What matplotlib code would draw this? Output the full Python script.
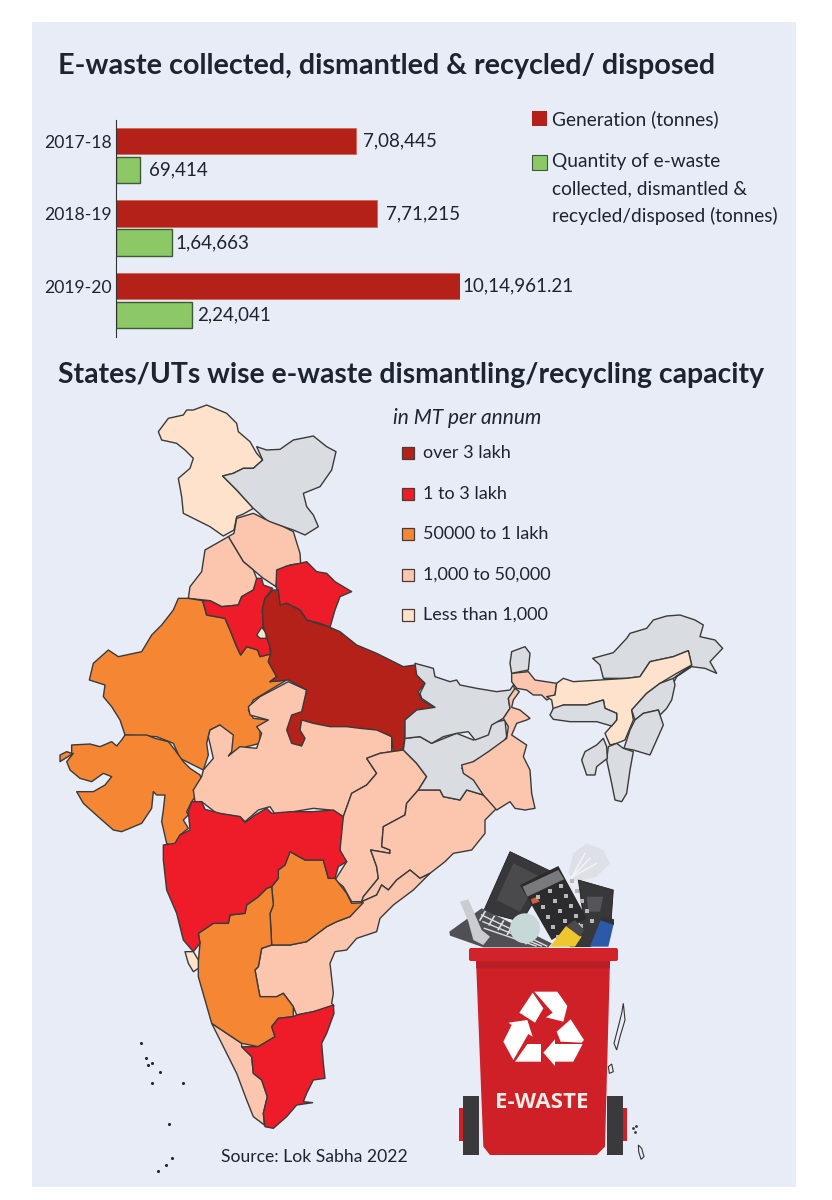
import matplotlib
matplotlib.use("Agg")
import matplotlib.pyplot as plt
from matplotlib.patches import Polygon, Rectangle, FancyBboxPatch, Circle

# data
years = ["2017-18", "2018-19", "2019-20"]
generation = [708445, 771215, 1014961.21]
collected = [69414, 164663, 224041]
gen_labels = ["7,08,445", "7,71,215", "10,14,961.21"]
col_labels = ["69,414", "1,64,663", "2,24,041"]
gen_gaps = [7, 9, 2]
col_gaps = [9, 4, 5]

legend_labels = ["over 3 lakh", "1 to 3 lakh", "50000 to 1 lakh", "1,000 to 50,000", "Less than 1,000"]
legend_colors = ["#b32119", "#ed1c28", "#f58634", "#fcc6ae", "#fee2cc"]
GREY = "#d9dce0"
RED_D, RED, ORANGE, PEACH, LIGHT = legend_colors

Z1 = (30, 390)
Z2 = (400, 620)
Z3 = (130, 780)
Z6 = (50, 720)
Z7 = (180, 670)

jk = [(385,125),(415,85),(460,75),(470,60),(490,60),(530,45),(590,70),(620,100),(625,125),(660,155),(680,190),(698,210),(670,235),(640,235),(610,250),(578,258),(620,300),(670,355),(640,372),(620,380),(612,420),(580,438),(540,410),(500,390),(460,370),(455,320),(445,265),(480,235),(490,205),(465,180),(440,160),(395,150)]
ladakh = [(680,170),(710,180),(750,178),(790,150),(850,138),(890,170),(918,185),(905,240),(870,290),(820,310),(830,350),(850,375),(865,410),(825,435),(790,420),(760,410),(715,395),(670,355),(620,300),(578,258),(610,250),(640,235),(670,235),(698,210)]
himachal = [(670,370),(720,395),(760,410),(790,425),(810,490),(812,520),(780,525),(745,540),(738,590),(700,565),(670,540),(640,515),(595,440),(612,430),(620,385)]
punjab = [(595,440),(640,515),(670,540),(682,570),(670,600),(635,620),(625,645),(575,650),(540,632),(475,625),(480,590),(515,545),(525,480),(560,460)]
haryana = [(518,632),(540,632),(575,650),(625,645),(635,620),(670,600),(680,565),(695,565),(700,585),(728,595),(705,625),(697,660),(700,710),(720,770),(722,792),(690,800),(683,780),(650,770),(632,795),(620,770),(600,720),(585,685),(530,675)]
delhi = [(680,735),(695,712),(710,730),(708,745),(690,745)]
uttarakhand = [(740,540),(770,528),(810,520),(830,515),(860,545),(890,550),(915,575),(965,605),(930,620),(915,660),(900,712),(870,700),(830,690),(810,660),(770,640),(750,650),(745,610),(738,590)]
up = [(745,600),(750,645),(770,640),(810,660),(830,690),(900,712),(930,725),(980,765),(1040,790),(1080,810),(1120,830),(1155,825),(1185,880),(1165,905),(1175,930),(1218,955),(1160,960),(1125,1010),(1125,1050),(1115,1090),(1090,1090),(1085,1040),(1040,1020),(990,1015),(950,1010),(900,1010),(850,1000),(815,990),(810,1020),(825,1045),(815,1068),(785,1060),(770,1020),(785,975),(815,965),(830,900),(775,870),(720,875),(740,860),(715,815),(722,790),(720,770),(700,710),(697,660),(705,625),(728,600)]
rajasthan = [(445,625),(475,625),(518,632),(530,675),(585,685),(600,720),(620,770),(632,795),(650,770),(683,780),(690,800),(722,792),(715,815),(740,860),(720,875),(770,870),(720,900),(670,930),(655,960),(670,985),(715,990),(690,1010),(690,1060),(650,1070),(610,1095),(590,1095),(605,1040),(575,1025),(570,1005),(540,1020),(530,1060),(535,1095),(520,1140),(500,1130),(450,1105),(430,1060),(380,1040),(285,1035),(270,990),(245,950),(220,920),(225,885),(178,870),(190,820),(235,780),(265,800),(335,785),(365,735),(395,705),(430,660)]

gujarat = [(225,45),(290,45),(315,55),(355,65),(375,90),(400,125),(420,145),(450,165),(455,180),(440,205),(430,210),(440,225),(425,245),(410,275),(415,285),(400,300),(415,325),(390,345),(370,380),(350,370),(335,305),(340,270),(345,225),(320,225),(310,215),(305,265),(275,310),(215,335),(190,330),(150,295),(100,250),(80,215),(90,215),(130,215),(165,195),(185,170),(160,160),(125,185),(90,175),(60,150),(50,125),(70,100),(30,125),(30,105),(50,95),(65,100),(65,75),(120,72),(150,80),(185,65),(200,78),(215,60)]

mp = [(325,35),(380,60),(370,120),(400,150),(460,150),(520,170),(580,170),(635,200),(635,245),(600,250),(560,265),(590,310),(560,345),(515,370),(490,440),(450,420),(400,415),(340,425),(290,440),(270,410),(235,420),(195,455),(180,440),(110,430),(65,395),(45,395),(40,360),(65,320),(70,300),(100,265),(85,200),(90,180),(120,165),(160,195),(155,245),(145,258),(180,230),(230,235),(245,190),(230,170),(265,150),(210,135),(205,110),(240,80)]
chhattisgarh = [(635,245),(670,240),(710,280),(740,320),(715,360),(680,400),(675,435),(610,470),(605,530),(630,540),(630,550),(572,540),(590,590),(595,625),(550,680),(545,695),(515,695),(490,650),(465,630),(500,575),(480,550),(480,470),(490,440),(515,370),(560,345),(590,310),(560,265),(600,250)]
odisha = [(715,360),(780,360),(790,380),(840,390),(860,360),(910,375),(950,415),(915,450),(915,490),(875,540),(820,550),(795,575),(750,610),(720,625),(690,600),(650,630),(625,660),(605,645),(590,675),(545,695),(550,680),(595,625),(590,590),(572,540),(630,550),(630,540),(605,530),(610,470),(675,435),(680,400)]
jharkhand = [(675,205),(720,200),(755,220),(830,190),(880,210),(930,160),(975,150),(980,200),(960,235),(890,270),(845,295),(880,320),(910,375),(860,360),(840,390),(790,380),(780,360),(715,360),(740,320),(710,280),(670,240)]

bihar = [(45,130),(100,145),(105,170),(150,185),(170,180),(180,195),(230,205),(290,215),(330,210),(340,195),(345,210),(325,235),(330,265),(310,295),(275,315),(265,345),(225,360),(205,335),(170,340),(130,350),(95,370),(60,350),(15,355),(15,300),(50,270),(105,262),(65,235),(60,220),(75,190),(50,165)]
west_bengal = [(345,205),(358,215),(340,240),(335,262),(360,270),(390,295),(380,300),(350,310),(335,345),(380,375),(370,410),(390,450),(395,520),(405,565),(375,570),(345,565),(330,545),(290,570),(250,525),(220,480),(190,460),(185,435),(220,425),(265,395),(320,355),(325,320),(310,295),(330,265),(325,235)]
wb_north = [(335,160),(385,155),(405,180),(470,190),(465,225),(440,240),(425,225),(400,225),(380,210),(350,205),(335,185)]
sikkim = [(335,95),(375,80),(390,100),(385,150),(335,160),(330,130)]
assam = [(470,190),(490,175),(520,185),(600,180),(680,175),(720,170),(750,125),(820,110),(865,92),(875,135),(830,160),(780,190),(740,220),(695,270),(700,300),(675,360),(650,370),(630,375),(615,340),(650,300),(650,280),(615,265),(610,240),(560,255),(490,255),(460,270),(455,240),(440,230),(465,225)]
meghalaya = [(460,265),(490,255),(560,255),(610,240),(615,265),(650,280),(650,300),(635,318),(590,305),(510,305),(460,298),(450,285)]
arunachal = [(578,115),(640,98),(680,55),(690,40),(740,25),(760,0),(800,-12),(840,-15),(885,0),(910,15),(900,50),(945,60),(968,85),(930,125),(950,160),(915,145),(875,140),(830,170),(820,190),(820,175),(875,135),(865,92),(820,110),(750,125),(720,170),(680,175),(610,175),(600,135)]
nagaland = [(820,175),(825,195),(815,240),(800,265),(780,285),(775,270),(730,280),(705,300),(695,270),(740,220),(780,190)]
manipur = [(730,280),(775,270),(790,315),(750,405),(700,390),(672,385),(690,330),(705,300)]
mizoram = [(625,380),(650,370),(670,385),(700,395),(690,450),(680,520),(665,545),(645,540),(635,490),(620,420)]
tripura = [(610,355),(620,380),(622,415),(590,440),(585,465),(560,465),(545,420),(555,395),(590,375)]

maharashtra = [(175,95),(185,65),(215,65),(225,88),(270,100),(330,110),(345,128),(375,105),(410,85),(425,100),(480,95),(550,95),(610,90),(640,110),(630,210),(650,245),(625,260),(615,295),(595,295),(580,240),(525,240),(480,215),(465,255),(445,270),(445,295),(425,320),(410,325),(385,350),(350,375),(345,400),(300,405),(295,430),(250,430),(205,460),(210,490),(190,515),(160,480),(140,400),(110,330),(100,240),(100,195),(135,190),(150,165),(180,150)]
telangana = [(480,215),(525,240),(580,240),(595,295),(615,295),(650,340),(665,370),(700,368),(660,410),(620,425),(590,440),(530,485),(480,495),(425,495),(420,400),(430,375),(425,320),(445,295),(445,270),(465,255)]
karnataka = [(410,325),(425,320),(430,375),(420,400),(425,495),(395,505),(385,560),(375,570),(385,625),(390,650),(440,650),(460,640),(490,680),(490,710),(445,715),(425,740),(435,770),(385,800),(335,790),(245,730),(205,590),(205,545),(210,490),(205,460),(250,430),(295,430),(300,405),(345,400),(350,375),(385,350)]
goa = [(165,515),(190,515),(205,540),(205,565),(190,575),(175,550)]
tamil_nadu = [(500,705),(550,695),(610,675),(612,700),(590,760),(575,790),(580,850),(585,895),(550,900),(530,940),(520,965),(548,968),(500,975),(470,1010),(430,1045),(405,1040),(400,1000),(412,950),(395,900),(370,880),(365,830),(335,800),(385,800),(435,770),(425,740),(445,715),(490,710)]
kerala = [(245,730),(335,790),(335,800),(365,830),(370,880),(395,900),(412,950),(400,1000),(403,1035),(370,1010),(350,960),(320,880),(280,800)]
andhra = [(695,365),(740,345),(755,315),(775,330),(800,300),(840,270),(870,295),(900,280),(850,330),(790,375),(750,415),(740,455),(680,475),(650,510),(615,515),(600,550),(610,640),(605,670),(612,678),(550,695),(500,705),(490,680),(460,640),(440,650),(390,650),(385,625),(375,570),(385,560),(395,505),(425,495),(480,495),(530,485),(590,440),(620,425),(660,410)]

islands_x = [141, 146, 148, 152, 160, 152, 183, 169, 158, 166, 172]
islands_y = [1043, 1058, 1065, 1063, 1072, 1083, 1083, 1124, 1171, 1165, 1158]
andaman = [(550,490),(545,520),(535,560),(522,610),(530,630),(540,590),(555,540)]
little_andaman = [(505,680),(515,672),(520,695),(508,700)]
nicobar = [(595,915),(605,925),(612,950),(603,958),(596,935)]

shapes = [
    (jk, Z1, LIGHT), (ladakh, Z1, GREY), (himachal, Z1, PEACH), (punjab, Z1, PEACH),
    (rajasthan, Z1, ORANGE), (gujarat, Z6, ORANGE), (haryana, Z1, RED), (delhi, Z1, LIGHT),
    (uttarakhand, Z1, RED), (mp, Z7, PEACH), (up, Z1, RED_D), (chhattisgarh, Z7, PEACH),
    (odisha, Z7, PEACH), (jharkhand, Z7, GREY), (bihar, Z2, GREY), (west_bengal, Z2, PEACH),
    (wb_north, Z2, PEACH), (sikkim, Z2, GREY), (arunachal, Z2, GREY), (assam, Z2, LIGHT),
    (meghalaya, Z2, GREY), (nagaland, Z2, GREY), (manipur, Z2, GREY), (mizoram, Z2, GREY),
    (tripura, Z2, GREY), (kerala, Z3, PEACH), (andhra, Z3, PEACH), (telangana, Z3, ORANGE),
    (karnataka, Z3, ORANGE), (maharashtra, Z3, RED), (goa, Z3, LIGHT), (tamil_nadu, Z3, RED),
]

PANEL = "#e8ecf7"
INK = "#1e2330"
plt.rcParams["font.family"] = ["Lato", "DejaVu Sans"]


def px(pts, origin):
    return [(origin[0] + x / 3, origin[1] + y / 3) for x, y in pts]


fig = plt.figure(figsize=(8.32, 12), dpi=100, facecolor="white")
ax = fig.add_axes([0, 0, 1, 1])
ax.set_xlim(0, 832)
ax.set_ylim(1200, 0)
ax.axis("off")
ax.add_patch(Rectangle((32, 22), 764, 1165, fc=PANEL, ec="none", zorder=0))

ax.text(58, 66, "E-waste collected, dismantled & recycled/ disposed", fontsize=20.7,
        fontweight="bold", color=INK, va="center", ha="left")
ax.text(58, 375, "States/UTs wise e-waste dismantling/recycling capacity", fontsize=20.4,
        fontweight="bold", color=INK, va="center", ha="left")

# bars
W, H = 832, 1200
ax_bar = fig.add_axes([116 / W, 1 - 337 / H, (460 - 116) / W, (337 - 120) / H])
ax_bar.patch.set_alpha(0)
ypos = list(range(len(years)))
red_y = [y - 0.2 for y in ypos]
green_y = [y + 0.2 for y in ypos]
ax_bar.barh(red_y, generation, height=0.365, color="#b32119", edgecolor="#d9604f", linewidth=0.5)
ax_bar.barh(green_y, collected, height=0.365, color="#8cc866", edgecolor="#3c5c38", linewidth=1)
ax_bar.set_xlim(0, 1014961.21)
ax_bar.set_ylim(2.5, -0.49)
for s in ["top", "right", "bottom"]:
    ax_bar.spines[s].set_visible(False)
ax_bar.spines["left"].set_color("#333333")
ax_bar.xaxis.set_visible(False)
ax_bar.set_yticks(red_y)
ax_bar.set_yticklabels(years, fontsize=12.6, color=INK)
ax_bar.tick_params(axis="y", length=0, pad=3)
for v, y, lab, g in zip(generation, red_y, gen_labels, gen_gaps):
    ax_bar.annotate(lab, (v, y), xytext=(g * 0.72, 0), textcoords="offset points",
                    va="center", ha="left", fontsize=13.5, color=INK, annotation_clip=False)
for v, y, lab, g in zip(collected, green_y, col_labels, col_gaps):
    ax_bar.annotate(lab, (v, y), xytext=(g * 0.72, 0), textcoords="offset points",
                    va="center", ha="left", fontsize=13.5, color=INK, annotation_clip=False)

# bar legend
ax.add_patch(Rectangle((532, 111), 15, 15, fc="#b32119", ec="none"))
ax.add_patch(Rectangle((532, 155), 15, 15, fc="#8cc866", ec="#3c5c38", lw=0.8))
ax.text(552, 119, "Generation (tonnes)", fontsize=13.8, color=INK, va="center")
for y, line in zip([162, 189, 216], ["Quantity of e-waste", "collected, dismantled &",
                                     "recycled/disposed (tonnes)"]):
    ax.text(552, y, line, fontsize=13.8, color=INK, va="center")

# map
for pts, origin, color in shapes:
    ax.add_patch(Polygon(px(pts, origin), closed=True, fc=color, ec="#3a3a3a", lw=1,
                         joinstyle="round", zorder=2))
ax.scatter(islands_x, islands_y, s=5, color="#22262e", zorder=2, linewidths=0)

# map legend
ax.text(393, 418, "in MT per annum", fontsize=15, style="italic", color=INK, va="center")
for y, lab, c in zip([453, 494, 534, 575, 615], legend_labels, legend_colors):
    ax.add_patch(Rectangle((402, y - 6), 12, 12, fc=c, ec="#4a3a38", lw=0.9, zorder=3))
    ax.text(423, y, lab, fontsize=13, color=INK, va="center")

ax.text(221, 1157, "Source: Lok Sabha 2022", fontsize=12.6, color=INK, va="center")

# bin and its contents, crop origin (440, 840)
Z4 = (440, 840)


def deco(pts, fc, ec="none", lw=0, z=5):
    ax.add_patch(Polygon(px(pts, Z4), closed=True, fc=fc, ec=ec, lw=lw, zorder=z))


for pts in (andaman, little_andaman, nicobar):
    deco(pts, PANEL, "#333333", 0.8, 2)
ax.scatter([633, 635, 636], [1128, 1132, 1126], s=4, color="#333333", zorder=2, linewidths=0)

deco([(385,100),(400,40),(440,10),(490,30),(510,70),(470,110),(410,125)], "#dde0e6", z=4)
for x2, y2 in [(435, 40), (450, 55), (470, 70)]:
    ax.plot(*zip(*px([(395, 112), (x2, y2)], Z4)), color="#f4f5f8", lw=1, zorder=4)
deco([(130,215),(210,35),(335,95),(245,245)], "#38383b", "#222222", 0.6)
deco([(170,180),(220,70),(300,110),(240,215)], "#4a4a4d")
deco([(415,120),(520,150),(510,290),(450,320),(390,320),(430,230)], "#38383b", "#222222", 0.6)
deco([(440,170),(490,170),(480,215),(445,215)], "#55555a")
deco([(28,275),(125,205),(335,310),(325,322),(130,322),(30,287)], "#505054")
for i in range(6):
    t = i / 6
    a = (135 + 165 * t, 215 + 85 * t)
    b = (120 + 165 * t, 240 + 85 * t)
    ax.plot(*zip(*px([a, b], Z4)), color="#dde0e2", lw=1.2, zorder=5)
for off in (0, 20, 40):
    a = (125 + off * 0.2, 225 + off)
    b = (320 + off * 0.2 - off, 318)
    ax.plot(*zip(*px([a, b], Z4)), color="#dde0e2", lw=1, zorder=5)
deco([(60,185),(85,178),(125,270),(150,290),(130,315),(100,300),(85,245)], "#c9ccd0", z=6)
ax.add_patch(Circle(px([(255, 265)], Z4)[0], 15, fc="#c6d8d8", ec="none", zorder=6))
deco([(240,135),(355,78),(440,235),(335,300)], "#2b2b2e", z=7)
deco([(248,140),(355,90),(372,118),(262,170)], "#7a7a7c", z=8)
deco([(272,178),(292,170),(298,185),(278,192)], "#d0603a", z=8)
for r in range(5):
    for c in range(4):
        kx = 295 + c * 34 + r * 15
        ky = 170 - c * 16 + r * 30
        ax.scatter(*px([(kx, ky)], Z4)[0], s=8, marker="s", color="#b8b8ba", zorder=8, linewidths=0)
deco([(330,320),(378,258),(425,290),(405,320)], "#f0c62e", z=8)
deco([(378,258),(405,240),(432,270),(420,290)], "#4a4a4d", z=8)
deco([(450,320),(482,240),(522,248),(505,320)], "#2c5aa8", z=8)
deco([(478,240),(490,228),(522,238),(522,255)], "#333336", z=8)

deco([(108,360),(510,360),(495,920),(470,945),(150,945),(130,920)], "#cf2027", z=9)
deco([(108,365),(510,365),(509,385),(109,385)], "#b81e25", z=10)
ax.add_patch(Rectangle((459, 1108), 5, 33, fc="#cf2027", zorder=8))
ax.add_patch(Rectangle((623, 1108), 4, 33, fc="#cf2027", zorder=8))
ax.add_patch(Rectangle((463, 1096), 16, 59, fc="#3a3a3d", ec="none", zorder=10))
ax.add_patch(Rectangle((607, 1096), 16, 59, fc="#3a3a3d", ec="none", zorder=10))
ax.add_patch(FancyBboxPatch((469, 948), 149, 13, boxstyle="round,pad=0,rounding_size=2",
                            fc="#d2222a", ec="none", zorder=11))
for pts in [
    [(238,518),(278,458),(310,505),(285,548)],
    [(283,455),(352,455),(382,498),(370,545),(318,532),(338,518)],
    [(350,575),(392,538),(432,600),(425,608),(362,605)],
    [(310,638),(345,598),(345,612),(428,612),(400,665),(345,665),(345,678)],
    [(225,665),(262,612),(303,612),(303,665)],
    [(190,605),(215,555),(205,548),(262,540),(278,590),(265,582),(220,660)],
]:
    deco(pts, "white", z=12)
ax.text(542, 1103, "E-WASTE", fontsize=16, fontweight="bold", color="#f6ece8", ha="center",
        va="center", zorder=12, family=["Open Sans", "DejaVu Sans"])

fig.savefig("out.png", dpi=100, facecolor="white")
